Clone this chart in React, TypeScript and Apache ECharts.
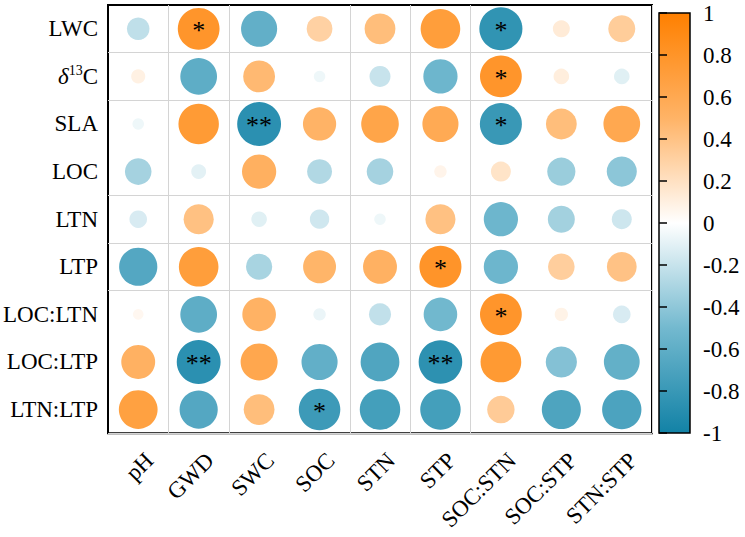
import React, { useEffect, useRef } from "react";
import * as echarts from "echarts";

const rowLabels = ["LWC", "δ13C", "SLA", "LOC", "LTN", "LTP", "LOC:LTN", "LOC:LTP", "LTN:LTP"];
const colLabels = ["pH", "GWD", "SWC", "SOC", "STN", "STP", "SOC:STN", "SOC:STP", "STN:STP"];

// correlation coefficients, one array per row (columns in colLabels order)
const corrLWC = [-0.23, 0.79, -0.59, 0.3, 0.43, 0.71, -0.84, 0.13, 0.33];
const corrD13C = [0.09, -0.61, 0.46, -0.06, -0.2, -0.53, 0.79, 0.11, -0.11];
const corrSLA = [-0.06, 0.74, -0.87, 0.5, 0.64, 0.59, -0.8, 0.43, 0.61];
const corrLOC = [-0.32, -0.1, 0.53, -0.28, -0.32, 0.07, 0.18, -0.36, -0.41];
const corrLTN = [-0.14, 0.41, -0.11, -0.17, -0.06, 0.41, -0.53, -0.33, -0.18];
const corrLTP = [-0.66, 0.71, -0.31, 0.49, 0.52, 0.8, -0.53, 0.32, 0.4];
const corrLOCLTN = [0.05, -0.61, 0.51, -0.07, -0.22, -0.51, 0.79, 0.08, -0.14];
const corrLOCLTP = [0.52, -0.87, 0.62, -0.59, -0.68, -0.86, 0.75, -0.44, -0.58];
const corrLTNLTP = [0.68, -0.66, 0.43, -0.78, -0.74, -0.74, 0.34, -0.69, -0.7];
const corrRows = [corrLWC, corrD13C, corrSLA, corrLOC, corrLTN, corrLTP, corrLOCLTN, corrLOCLTP, corrLTNLTP];

// significance marks
const sigLWC = ["", "*", "", "", "", "", "*", "", ""];
const sigD13C = ["", "", "", "", "", "", "*", "", ""];
const sigSLA = ["", "", "**", "", "", "", "*", "", ""];
const sigLOC = ["", "", "", "", "", "", "", "", ""];
const sigLTN = ["", "", "", "", "", "", "", "", ""];
const sigLTP = ["", "", "", "", "", "*", "", "", ""];
const sigLOCLTN = ["", "", "", "", "", "", "*", "", ""];
const sigLOCLTP = ["", "**", "", "", "", "**", "", "", ""];
const sigLTNLTP = ["", "", "", "*", "", "", "", "", ""];
const sigRows = [sigLWC, sigD13C, sigSLA, sigLOC, sigLTN, sigLTP, sigLOCLTN, sigLOCLTP, sigLTNLTP];

const colorTicks = [-1, -0.8, -0.6, -0.4, -0.2, 0, 0.2, 0.4, 0.6, 0.8, 1];

// palette from -1 to 1
const palette = ["#1282a6", "#73b9cf", "#ffffff", "#ffb366", "#ff8000"];

const FONT = "Liberation Serif";

export default function App() {
  const ref = useRef<HTMLDivElement>(null);

  useEffect(() => {
    if (!ref.current) return;
    const chart = echarts.init(ref.current, undefined, { renderer: "svg" });

    const data: number[][] = [];
    corrRows.forEach((row, yi) => {
      row.forEach((v, xi) => {
        data.push([xi, yi, v]);
      });
    });

    const rev = palette.slice().reverse();
    const gradient = new echarts.graphic.LinearGradient(
      0,
      0,
      0,
      1,
      rev.map((c, i) => ({ offset: i / (rev.length - 1), color: c }))
    );

    const splitShown = [1, 2, 4, 5, 6];

    const option: any = {
      animation: false,
      backgroundColor: "#ffffff",
      textStyle: { fontFamily: FONT },
      grid: [
        {
          left: 108,
          top: 5,
          width: 544,
          height: 437,
          show: true,
          borderColor: "#000",
          borderWidth: 2,
          backgroundColor: "#fff",
        },
        {
          left: 659,
          top: 13,
          width: 31,
          height: 420,
          show: true,
          borderColor: "#000",
          borderWidth: 1.5,
          backgroundColor: gradient,
        },
      ],
      xAxis: [
        {
          type: "category",
          gridIndex: 0,
          data: colLabels,
          axisLine: { show: false },
          axisTick: { show: false },
          splitLine: {
            show: true,
            interval: (i: number) => splitShown.indexOf(i) >= 0,
            lineStyle: { color: "#d4d4d4", width: 1 },
          },
          axisLabel: {
            interval: 0,
            rotate: 45,
            align: "right",
            verticalAlign: "top",
            lineHeight: 32,
            margin: 12,
            fontSize: 23,
            fontFamily: FONT,
            color: "#000",
          },
        },
        {
          type: "value",
          gridIndex: 1,
          show: false,
          min: 0,
          max: 1,
        },
      ],
      yAxis: [
        {
          type: "category",
          gridIndex: 0,
          data: rowLabels,
          inverse: true,
          axisLine: { show: false },
          axisTick: { show: false },
          splitLine: {
            show: true,
            interval: (i: number) => splitShown.indexOf(i) >= 0,
            lineStyle: { color: "#d4d4d4", width: 1 },
          },
          axisLabel: {
            interval: 0,
            margin: 10,
            fontSize: 23,
            fontFamily: FONT,
            color: "#000",
            formatter: (v: string) => (v === "δ13C" ? "{d|δ}{s|13}{c|C}" : v),
            rich: {
              d: { fontSize: 23, fontFamily: FONT, fontStyle: "italic", color: "#000", lineHeight: 26 },
              s: { fontSize: 14, fontFamily: FONT, color: "#000", verticalAlign: "top", lineHeight: 26 },
              c: { fontSize: 23, fontFamily: FONT, color: "#000", lineHeight: 26 },
            },
          },
        },
        {
          type: "value",
          gridIndex: 1,
          position: "right",
          min: colorTicks[0],
          max: colorTicks[colorTicks.length - 1],
          interval: 0.2,
          axisLine: { show: false },
          splitLine: { show: false },
          axisTick: { show: true, inside: false, length: 8, lineStyle: { color: "#000", width: 1.5 } },
          axisLabel: {
            margin: 13,
            fontSize: 23,
            fontFamily: FONT,
            color: "#000",
            formatter: (v: number) => String(Math.round(v * 10) / 10),
          },
        },
      ],
      visualMap: {
        show: false,
        type: "continuous",
        min: -1,
        max: 1,
        dimension: 2,
        seriesIndex: 0,
        inRange: { color: palette },
      },
      series: [
        {
          type: "scatter",
          xAxisIndex: 0,
          yAxisIndex: 0,
          silent: true,
          data,
          symbol: "circle",
          symbolSize: (v: number[]) => 47 * Math.sqrt(Math.abs(v[2])),
          itemStyle: { opacity: 1 },
          label: {
            show: true,
            position: "inside",
            offset: [0, 2],
            fontSize: 26,
            fontFamily: FONT,
            color: "#000",
            formatter: (p: any) => sigRows[p.data[1]][p.data[0]],
          },
        },
      ],
    };

    chart.setOption(option);
    return () => chart.dispose();
  }, []);

  return (
    <div
      ref={ref}
      style={{ position: "fixed", left: 0, top: 0, width: 745, height: 537 }}
    />
  );
}
